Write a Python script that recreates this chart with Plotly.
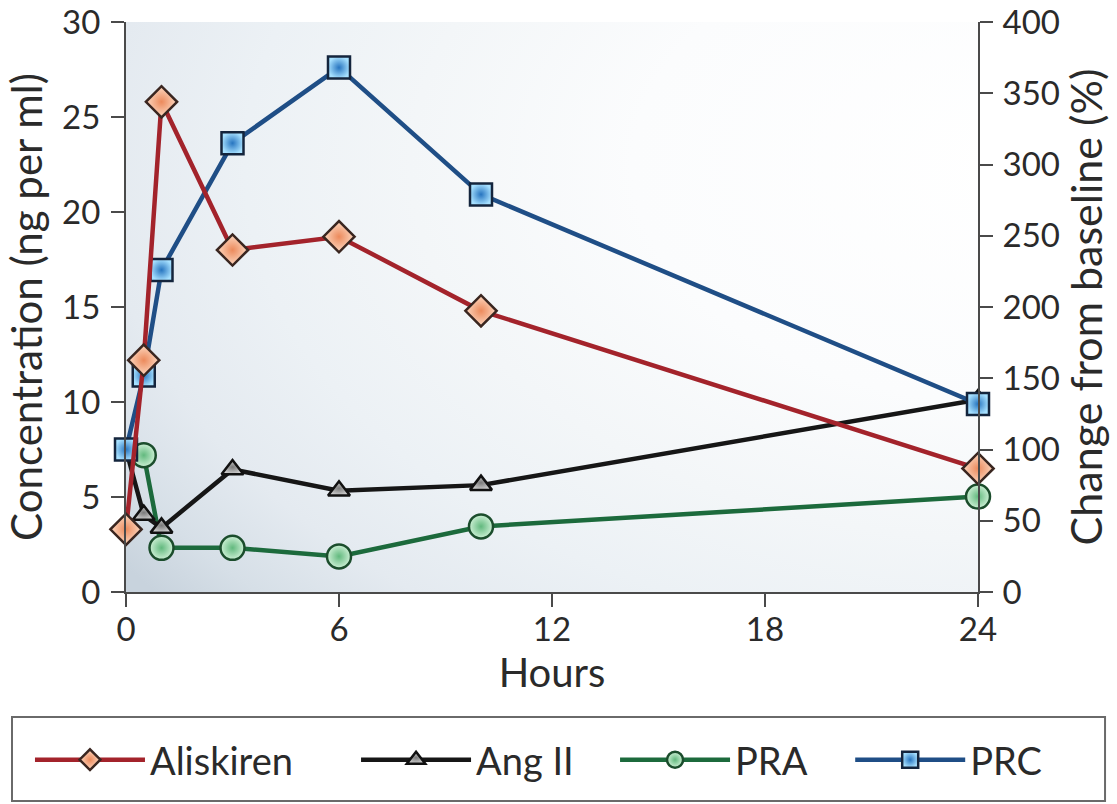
import plotly.graph_objects as go

# ---- data -------------------------------------------------------------
hours = [0, 0.5, 1, 3, 6, 10, 24]
pra_hours = [-0.25, 0.5, 1, 3, 6, 10, 24]

aliskiren_ng_ml = [3.3, 12.2, 25.8, 18.0, 18.7, 14.8, 6.5]   # left axis
ang2_pct = [100, 54, 45, 86, 71, 75, 135]                   # right axis
pra_pct = [100, 96, 31, 31, 25, 46, 67]
prc_pct = [100, 152, 226, 315, 368, 279, 132]

hour_ticks = [0, 6, 12, 18, 24]
conc_ticks = [0, 5, 10, 15, 20, 25, 30]
pct_ticks = [0, 50, 100, 150, 200, 250, 300, 350, 400]

# ---- styling ----------------------------------------------------------
FONT = "Lato, 'Open Sans', sans-serif"
TXT = "#2a2a2a"
AXIS = "#4a4a4a"
TICK_SIZE = 33
TITLE_SIZE = 42
LEGEND_SIZE = 38

axis_common = dict(
    showline=True, linecolor=AXIS, linewidth=2,
    ticks="outside", ticklen=13, tickwidth=2, tickcolor=AXIS,
    showgrid=False, zeroline=False,
    tickfont=dict(family=FONT, size=TICK_SIZE, color=TXT),
    automargin=False,
)

fig = go.Figure()

# soft radial backdrop: lightest towards the upper right, greyer to the lower left
bg_x = [-6, 56.4, 56.4, -6, -6]
bg_y = [-180, -180, 780, 780, -180]
fig.add_trace(go.Scatter(
    x=bg_x, y=bg_y, mode="lines", fill="toself",
    line=dict(width=0),
    fillgradient=dict(
        type="radial",
        colorscale=[[0.0, "#ffffff"], [0.35, "#fbfcfd"], [0.55, "#f3f6f8"],
                    [0.7, "#ecf1f5"], [0.83, "#e4eaf0"], [0.93, "#d6dfe7"],
                    [1.0, "#c8d3dd"]],
    ),
    hoverinfo="skip", showlegend=False, xaxis="x", yaxis="y",
))

def series(x, y, name, axis, line_color, symbol, size, centre, edge, outline, legend):
    return go.Scatter(
        x=x, y=y, name=name, yaxis=axis, mode="lines+markers",
        line=dict(color=line_color, width=4.5),
        marker=dict(symbol=symbol, size=size, color=centre,
                    gradient=dict(type="radial", color=edge),
                    line=dict(color=outline, width=2.5)),
        cliponaxis=False, legend=legend,
    )

# drawing order: PRA underneath, Aliskiren on top
fig.add_trace(series(pra_hours, pra_pct, "PRA", "y", "#1c6a3c", "circle", 24,
                     "#cdf0d5", "#62b97e", "#1b4d2c", "legend3"))
fig.add_trace(series(hours, ang2_pct, "Ang II", "y", "#161616", "triangle-up", 19,
                     "#cfcfcf", "#7a7a7a", "#111111", "legend2"))
fig.add_trace(series(hours, prc_pct, "PRC", "y", "#1f4e86", "square", 22,
                     "#a6e0ff", "#2775c0", "#14253d", "legend4"))
fig.add_trace(series(hours, aliskiren_ng_ml, "Aliskiren", "y2", "#a3232b", "diamond", 24,
                     "#fdd9c2", "#ec8a5c", "#3a2620", "legend"))

def legend_box(x):
    return dict(
        orientation="h", x=x, xanchor="left", y=-0.2947, yanchor="middle",
        font=dict(family=FONT, size=LEGEND_SIZE, color=TXT),
        itemwidth=110, bgcolor="rgba(0,0,0,0)", borderwidth=0,
    )

fig.update_layout(
    width=1117, height=804,
    margin=dict(l=126, r=139, t=22, b=212),
    paper_bgcolor="white", plot_bgcolor="white",
    font=dict(family=FONT, color=TXT),
    xaxis=dict(range=[0, 24], tickvals=hour_ticks,
               title=dict(text="Hours", font=dict(family=FONT, size=TITLE_SIZE - 2, color=TXT),
                          standoff=8),
               ticklabelposition="outside", ticklabelstandoff=-6, **axis_common),
    yaxis=dict(side="right", range=[0, 400], tickvals=pct_ticks,
               title=dict(text="Change from baseline (%)",
                          font=dict(family=FONT, size=TITLE_SIZE + 1, color=TXT), standoff=12),
               ticklabelstandoff=3, **axis_common),
    yaxis2=dict(side="left", overlaying="y", range=[0, 30], tickvals=conc_ticks,
                title=dict(text="Concentration (ng per ml)",
                           font=dict(family=FONT, size=TITLE_SIZE, color=TXT), standoff=6),
                ticklabelstandoff=4, **axis_common),
    legend=legend_box(-0.1127),
    legend2=legend_box(0.2700),
    legend3=legend_box(0.5740),
    legend4=legend_box(0.8500),
    shapes=[dict(type="rect", xref="paper", yref="paper",
                 x0=-0.1338, x1=1.1491, y0=-0.3667, y1=-0.2193,
                 line=dict(color="#6a6a6a", width=2), fillcolor="rgba(0,0,0,0)")],
    showlegend=True,
)

fig.write_html("out.html")
